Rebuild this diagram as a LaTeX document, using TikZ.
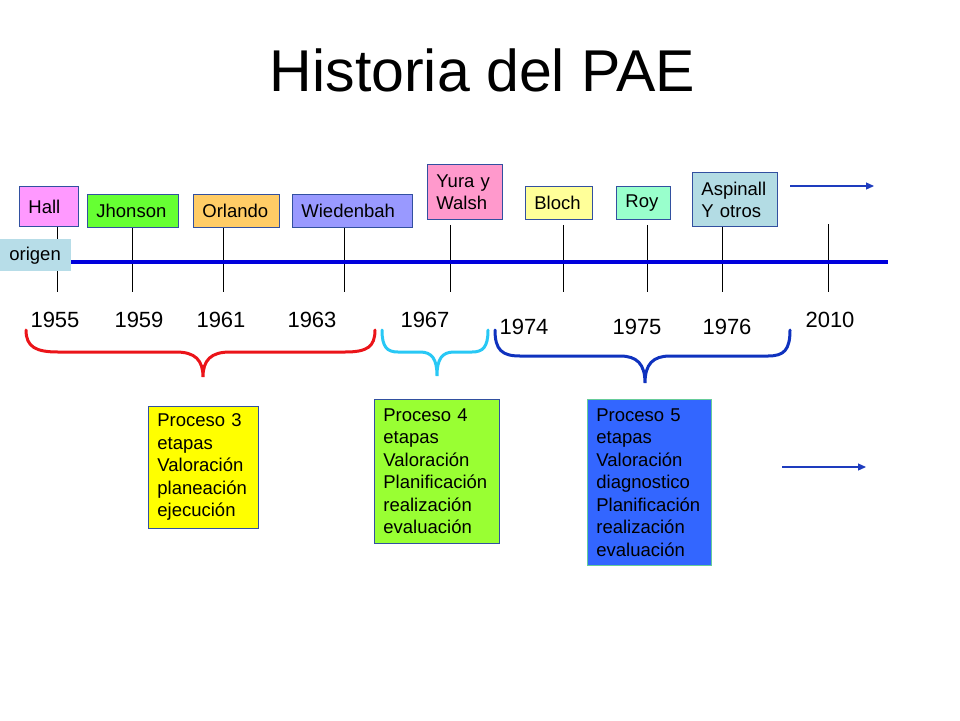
\documentclass[tikz,border=0pt]{standalone}
\usepackage{fontspec}
\setmainfont{Liberation Sans}
\usetikzlibrary{arrows.meta}
\definecolor{boxedge}{RGB}{50,80,160}
\definecolor{cHall}{HTML}{FF99FF}
\definecolor{cJh}{HTML}{66FF33}
\definecolor{cOr}{HTML}{FFCC66}
\definecolor{cWi}{HTML}{9999FF}
\definecolor{cYu}{HTML}{FF99CC}
\definecolor{cBl}{HTML}{FFFF99}
\definecolor{cRo}{HTML}{99FFCC}
\definecolor{cAs}{HTML}{B3DCE4}
\definecolor{cOrig}{HTML}{B7DDE8}
\definecolor{cP3}{HTML}{FFFF00}
\definecolor{cP4}{HTML}{99FF33}
\definecolor{cP5}{HTML}{3366FF}
\definecolor{cP5edge}{HTML}{66CC99}
\definecolor{lineblue}{RGB}{0,0,220}
\definecolor{arrowblue}{RGB}{30,60,190}
\definecolor{bred}{RGB}{235,20,25}
\definecolor{bcyan}{RGB}{40,200,245}
\definecolor{bdark}{RGB}{15,50,190}
\hyphenpenalty=10000\relax
\begin{document}
\begin{tikzpicture}[x=1pt,y=-1pt,
  lbl/.style n args={3}{draw=boxedge, line width=0.8pt, anchor=north west,
    inner xsep=9pt, inner ysep=0pt, minimum width=#1pt, text width=#2pt,
    minimum height=#3pt, align=left,
    font=\fontsize{18.5}{22}\selectfont},
  proc/.style n args={3}{draw=boxedge, line width=0.8pt, anchor=north west,
    inner xsep=9pt, inner ysep=0pt, minimum width=#1pt, text width=#2pt,
    minimum height=#3pt, align=left,
    font=\fontsize{18.5}{22.5}\selectfont},
  year/.style={inner sep=0pt, font=\fontsize{22}{26}\selectfont},
  tick/.style={draw=black, line width=0.9pt},
  brace/.style={line width=3pt, line cap=round},
  arr/.style={draw=arrowblue, line width=1.2pt, -{Triangle[length=8pt,width=7pt]}}
]
\useasboundingbox (0,0) rectangle (960,720);

% title
\node[inner sep=0pt, font=\fontsize{59}{70}\selectfont] (title) at (482.5,70.5) {Historia del PAE};

% label boxes
\node[lbl={59}{41}{40}, fill=cHall] (hall) at (19,186) {Hall};
\node[lbl={91}{73}{33}, fill=cJh] (jh) at (87,194) {Jhonson};
\node[lbl={86}{68}{33}, fill=cOr] (orl) at (193,194) {Orlando};
\node[lbl={120}{102}{33}, fill=cWi] (wie) at (292,194) {Wiedenbah};
\node[lbl={75}{57}{55}, fill=cYu] (yura) at (427,164) {Yura y\\Walsh};
\node[lbl={67}{49}{33}, fill=cBl] (blo) at (525,186) {Bloch};
\node[lbl={54}{36}{33}, fill=cRo] (roy) at (616,186) {Roy};
\node[lbl={85}{67}{54}, fill=cAs] (asp) at (692,172) {Aspinall\\Y otros};

% tick bottoms
\coordinate (t1) at (57,292);
\coordinate (t2) at (132,292);
\coordinate (t3) at (223,292);
\coordinate (t4) at (344,292);
\coordinate (t5) at (450,292);
\coordinate (t6) at (563,292);
\coordinate (t7) at (647,292);
\coordinate (t8) at (722,292);
\coordinate (t9) at (828,292);
\coordinate (t9top) at (828,224);

\draw[tick] (t1 |- hall.south) -- (t1);
\draw[tick] (t2 |- jh.south) -- (t2);
\draw[tick] (t3 |- orl.south) -- (t3);
\draw[tick] (t4 |- wie.south) -- (t4);
\draw[tick, shorten <=5pt] (t5 |- yura.south) -- (t5);
\draw[tick, shorten <=5pt] (t6 |- blo.south) -- (t6);
\draw[tick, shorten <=5pt] (t7 |- roy.south) -- (t7);
\draw[tick] (t8 |- asp.south) -- (t8);
\draw[tick] (t9top) -- (t9);

% main time line
\coordinate (ls) at (60,262);
\coordinate (le) at (888,262);
\draw[draw=lineblue, line width=4.5pt] (ls) -- (le);

% origen
\node[lbl={71}{53}{32}, draw=none, fill=cOrig] (orig) at (0,239) {origen};

% years
\node[year] (y1955) at (55,320) {1955};
\node[year] (y1959) at (139,320) {1959};
\node[year] (y1961) at (221,320) {1961};
\node[year] (y1963) at (312,320) {1963};
\node[year] (y1967) at (425,320) {1967};
\node[year] (y1974) at (524,326.5) {1974};
\node[year] (y1975) at (637,326.5) {1975};
\node[year] (y1976) at (727,326.5) {1976};
\node[year] (y2010) at (830,320) {2010};

% braces
\draw[brace, draw=bred] (26,330) .. controls (26,347) and (36,352) .. (58,352)
  -- (176,352) .. controls (195,352) and (203,360) .. (203,377)
  .. controls (203,360) and (211,352) .. (230,352)
  -- (345,352) .. controls (367,352) and (375,347) .. (375,330);
\draw[brace, draw=bcyan] (382,330) .. controls (382,347) and (387,352) .. (398,352)
  -- (420,352) .. controls (432,352) and (437,359) .. (437,376)
  .. controls (437,359) and (442,352) .. (454,352)
  -- (472,352) .. controls (483,352) and (488,347) .. (488,330);
\draw[brace, draw=bdark] (495,330) .. controls (495,350) and (502,356) .. (520,356)
  -- (620,356) .. controls (637,356) and (645,364) .. (645,383)
  .. controls (645,364) and (653,356) .. (670,356)
  -- (768,356) .. controls (784,356) and (790,350) .. (790,330);

% process boxes
\node[proc={110}{92}{122}, fill=cP3] (p3) at (148,406)
  {Proceso 3\\etapas\\Valoración\\planeación\\ejecución};
\node[proc={125}{107}{144}, fill=cP4] (p4) at (374,399)
  {Proceso 4\\etapas\\Valoración\\Planificación\\realización\\evaluación};
\node[proc={124}{106}{166}, fill=cP5, draw=cP5edge] (p5) at (587,399)
  {Proceso 5\\etapas\\Valoración\\diagnostico\\Planificación\\realización\\evaluación};

% arrows
\coordinate (a1s) at (790,186);
\coordinate (a1e) at (874,186);
\coordinate (a2s) at (782,467);
\coordinate (a2e) at (866,467);
\draw[arr] (a1s) -- (a1e);
\draw[arr] (a2s) -- (a2e);
\end{tikzpicture}
\end{document}
